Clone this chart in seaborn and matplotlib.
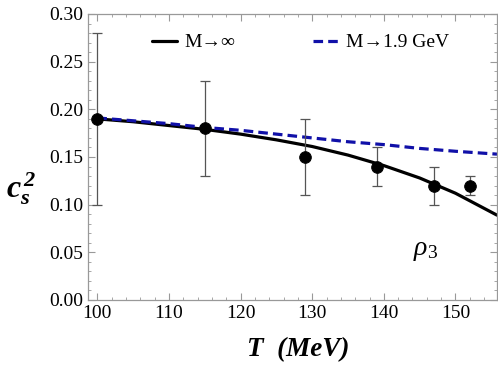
import numpy as np
import pandas as pd
import matplotlib
matplotlib.use('Agg')
import matplotlib.pyplot as plt
from matplotlib.ticker import MultipleLocator
import seaborn as sns

# lattice points with error bars
T_pts = [100, 115, 129, 139, 147, 152]
cs2_pts = [0.19, 0.18, 0.15, 0.14, 0.12, 0.12]
cs2_err = [0.09, 0.05, 0.04, 0.02, 0.02, 0.01]

# model curves
T_curve = [100, 105, 110, 115, 120, 125, 130, 135, 140, 145, 150, 155.8]
cs2_inf = [0.190, 0.187, 0.183, 0.179, 0.174, 0.168, 0.161, 0.152, 0.141, 0.128, 0.112, 0.089]
cs2_19 = [0.191, 0.188, 0.185, 0.181, 0.178, 0.174, 0.170, 0.166, 0.163, 0.159, 0.156, 0.153]

sns.set_style('ticks')
plt.rcParams['font.family'] = ['Liberation Serif', 'DejaVu Serif']
plt.rcParams['mathtext.fontset'] = 'custom'
plt.rcParams['mathtext.rm'] = 'Liberation Serif'
plt.rcParams['mathtext.it'] = 'Liberation Serif:italic'
plt.rcParams['mathtext.bf'] = 'Liberation Serif:bold:italic'
plt.rcParams['text.color'] = 'black'
plt.rcParams['axes.labelcolor'] = 'black'

curves = pd.DataFrame({'T': T_curve + T_curve,
                       'cs2': cs2_inf + cs2_19,
                       'model': ['M→∞'] * len(T_curve) + ['M→1.9 GeV'] * len(T_curve)})

fig = plt.figure(figsize=(4.98, 3.70), dpi=100)
ax = fig.add_axes([88 / 498, 70 / 370, 409 / 498, 286 / 370])

sns.lineplot(data=curves, x='T', y='cs2', hue='model', style='model',
             palette={'M→∞': 'black', 'M→1.9 GeV': '#1010a8'},
             dashes={'M→∞': '', 'M→1.9 GeV': (3, 1.6)},
             linewidth=2.3, ax=ax)
ax.errorbar(T_pts, cs2_pts, yerr=cs2_err, fmt='none', ecolor='#555555',
            elinewidth=0.9, capsize=3.5, capthick=0.9, zorder=3)
sns.scatterplot(x=T_pts, y=cs2_pts, color='black', s=70, edgecolor='black',
                zorder=4, ax=ax, legend=False)

ax.set_xlim(98.7, 155.8)
ax.set_ylim(0, 0.30)
ax.xaxis.set_major_locator(MultipleLocator(10))
ax.xaxis.set_minor_locator(MultipleLocator(2))
ax.yaxis.set_major_locator(MultipleLocator(0.05))
ax.yaxis.set_minor_locator(MultipleLocator(0.01))
ax.yaxis.set_major_formatter(matplotlib.ticker.FormatStrFormatter('%.2f'))

for s in ax.spines.values():
    s.set_color('#999999')
    s.set_linewidth(0.9)
ax.tick_params(which='both', direction='in', top=True, right=True,
               color='#999999', labelsize=14, labelcolor='black')
ax.tick_params(which='major', length=5, width=0.8)
ax.tick_params(which='minor', length=2.5, width=0.6)

ax.set_xlabel('T  (MeV)', fontsize=19.5, fontweight='bold', fontstyle='italic', va='center')
ax.xaxis.set_label_coords(0.515, -0.175)
ax.set_ylabel(r'$\mathbf{c_s^{\,2}}$', fontsize=23, rotation=0, ha='center', va='center')
ax.yaxis.set_label_coords(-0.165, 0.39)

ax.text(145.8, 0.052, r'$\rho_{\mathrm{3}}$', fontsize=20, ha='center', va='center')

leg = ax.legend(loc='center', bbox_to_anchor=(0.52, 0.90), ncol=2, frameon=False,
                fontsize=14, handlelength=1.3, handletextpad=0.4, columnspacing=4.0)
for t in leg.get_texts():
    t.set_color('black')

fig.savefig('out.png', dpi=100)
